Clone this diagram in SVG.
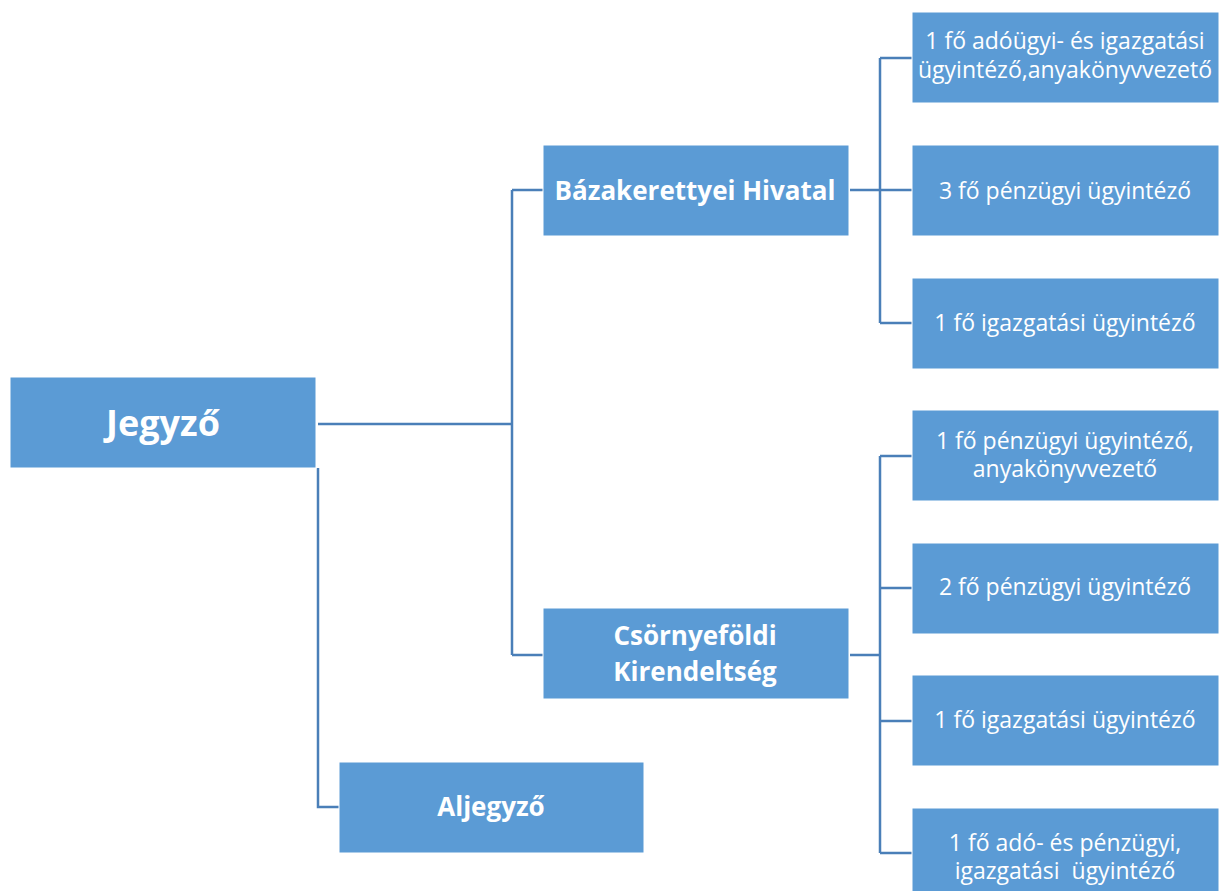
<svg xmlns="http://www.w3.org/2000/svg" width="1219" height="891" viewBox="0 0 1219 891">
<style>
.box{fill:#5b9bd5;stroke:#ffffff;stroke-width:1}
.t{fill:#ffffff;font-family:"Open Sans","Noto Sans",sans-serif;text-anchor:middle;white-space:pre}
.b{font-weight:bold}
.big{font-size:36px}
.mid{font-size:26px}
.sm{font-size:23px}
.c{fill:none;stroke:#4a7fb8;stroke-width:2.5}
</style>
<rect width="1219" height="891" fill="#ffffff"/>
<g id="connectors">
<path class="c" d="M318 424 H512 M512 190 V655 M512 190 H543 M512 655 H543"/>
<path class="c" d="M318 468 V807 H339"/>
<path class="c" d="M850 190 H880 M880 58 V323 M880 58 H912 M880 190 H912 M880 323 H912"/>
<path class="c" d="M850 655 H880 M880 456 V853 M880 456 H912 M880 588 H912 M880 721 H912 M880 853 H912"/>
</g>
<g id="jegyzo"><rect class="box" x="10" y="377" width="306" height="91"/><text class="t b big" x="163" y="436">Jegyző</text></g>
<g id="bazakerettye"><rect class="box" x="543" y="145" width="306" height="91"/><text class="t b mid" x="695" y="200">Bázakerettyei Hivatal</text></g>
<g id="csornyefold"><rect class="box" x="543" y="608" width="306" height="91"/><text class="t b mid" x="695" y="645">Csörnyeföldi</text><text class="t b mid" x="695" y="681">Kirendeltség</text></g>
<g id="aljegyzo"><rect class="box" x="339" y="762" width="305" height="91"/><text class="t b mid" x="491" y="816">Aljegyző</text></g>
<g id="b1"><rect class="box" x="912" y="12" width="307" height="91"/><text class="t sm" x="1065" y="49">1 fő adóügyi- és igazgatási</text><text class="t sm" x="1065" y="78">ügyintéző,anyakönyvvezető</text></g>
<g id="b2"><rect class="box" x="912" y="145" width="307" height="91"/><text class="t sm" x="1065" y="199">3 fő pénzügyi ügyintéző</text></g>
<g id="b3"><rect class="box" x="912" y="278" width="307" height="91"/><text class="t sm" x="1065" y="331">1 fő igazgatási ügyintéző</text></g>
<g id="c1"><rect class="box" x="912" y="410" width="307" height="91"/><text class="t sm" x="1065" y="449">1 fő pénzügyi ügyintéző,</text><text class="t sm" x="1065" y="477">anyakönyvvezető</text></g>
<g id="c2"><rect class="box" x="912" y="543" width="307" height="91"/><text class="t sm" x="1065" y="595">2 fő pénzügyi ügyintéző</text></g>
<g id="c3"><rect class="box" x="912" y="675" width="307" height="91"/><text class="t sm" x="1065" y="728">1 fő igazgatási ügyintéző</text></g>
<g id="c4"><rect class="box" x="912" y="808" width="307" height="91"/><text class="t sm" x="1065" y="851">1 fő adó- és pénzügyi,</text><text class="t sm" x="1065" y="879">igazgatási  ügyintéző</text></g>
</svg>
